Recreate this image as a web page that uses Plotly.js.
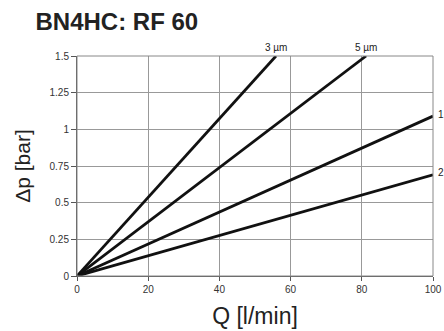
<!DOCTYPE html>
<html>
<head>
<meta charset="utf-8">
<script src="https://cdn.plot.ly/plotly-3.0.1.min.js"></script>
<style>html,body{margin:0;padding:0;background:#fff;}#chart{width:444px;height:331px;}</style>
</head>
<body>
<div id="chart"></div>
<script>
var seriesNames = ["3 µm", "5 µm", "1", "2"];
var flowQ = [[0, 55.9], [0, 81.2], [0, 100], [0, 100]];
var deltaP = [[0, 1.5], [0, 1.5], [0, 1.09], [0, 0.69]];
var xTicks = [0, 20, 40, 60, 80, 100];
var yTicks = [0, 0.25, 0.5, 0.75, 1, 1.25, 1.5];
var yTickText = ["0", "0.25", "0.5", "0.75", "1", "1.25", "1.5"];

var traces = seriesNames.map(function (n, i) {
  return {x: flowQ[i], y: deltaP[i], mode: "lines", name: n,
          line: {color: "#111", width: 2.8}, showlegend: false, cliponaxis: false};
});

var annotations = seriesNames.map(function (n, i) {
  var endX = flowQ[i][1], endY = deltaP[i][1];
  var top = endY >= 1.5;
  return {x: endX, y: endY, xref: "x", yref: "y", text: n, showarrow: false,
          font: {family: "Liberation Sans, Arial, sans-serif", size: 10, color: "#222"},
          xanchor: top ? "center" : "left", yanchor: top ? "bottom" : "middle",
          xshift: top ? 0 : 3, yshift: top ? 1 : 2};
});

var layout = {
  width: 444, height: 331,
  margin: {l: 77, r: 11, t: 56, b: 55},
  paper_bgcolor: "#fff", plot_bgcolor: "#fff",
  title: {text: "<b>BN4HC: RF 60</b>", x: 0.08, xanchor: "left", y: 0.935, yanchor: "middle",
          font: {family: "Liberation Sans, Arial, sans-serif", size: 24, color: "#222"}},
  xaxis: {range: [0, 100], tickvals: xTicks, ticks: "outside", ticklen: 4, tickcolor: "#555",
          showgrid: true, gridcolor: "#999", gridwidth: 1, zeroline: false,
          showline: true, linecolor: "#555", linewidth: 1, mirror: false,
          tickfont: {family: "Liberation Sans, Arial, sans-serif", size: 10, color: "#333"},
          title: {text: "Q [l/min]", standoff: 13, font: {family: "Liberation Sans, Arial, sans-serif", size: 23, color: "#222"}}},
  yaxis: {range: [0, 1.5], tickvals: yTicks, ticktext: yTickText, ticks: "outside", ticklen: 5, tickcolor: "#555",
          showgrid: true, gridcolor: "#999", gridwidth: 1, zeroline: false,
          showline: true, linecolor: "#555", linewidth: 1,
          tickfont: {family: "Liberation Sans, Arial, sans-serif", size: 10, color: "#333"},
          title: {text: "Δp [bar]", standoff: 13, font: {family: "Liberation Sans, Arial, sans-serif", size: 21, color: "#222"}}},
  shapes: [{type: "rect", xref: "paper", yref: "paper", x0: 0, x1: 1, y0: 0, y1: 1,
            line: {color: "#888", width: 1}}],
  annotations: annotations
};

Plotly.newPlot("chart", traces, layout, {displayModeBar: false, staticPlot: true});
</script>
</body>
</html>
